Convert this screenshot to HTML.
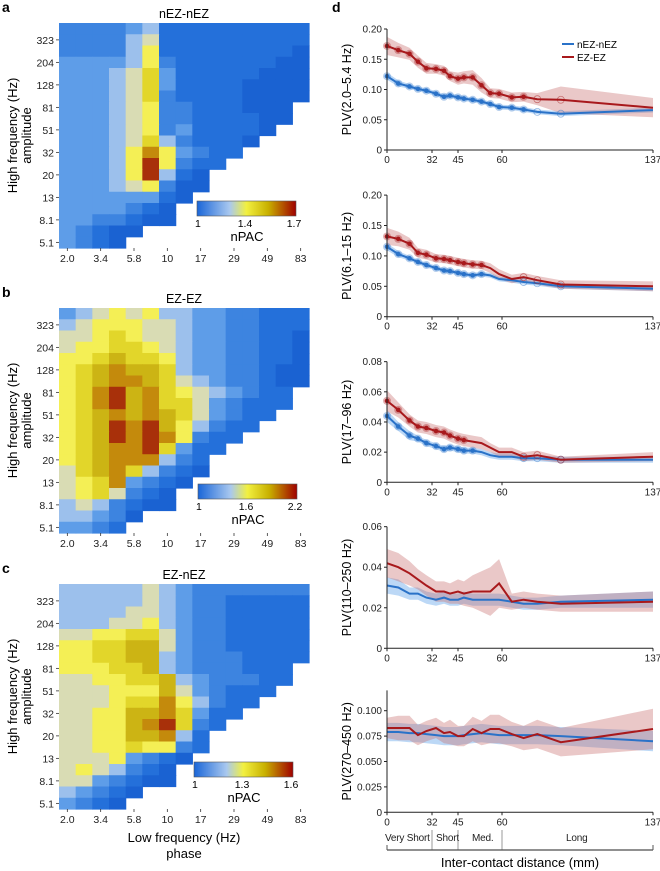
<!DOCTYPE html>
<html><head><meta charset="utf-8"><style>
html,body{margin:0;padding:0;background:#fff;}
svg{display:block;font-family:"Liberation Sans",sans-serif;}
</style></head><body>
<svg id="fig" width="660" height="871" viewBox="0 0 660 871"></svg>
<script>
// ---------- heatmap data (levels 0-9,A; '.' = empty) ----------
const hmXLabels = ["2.0","3.4","5.8","10","17","29","49","83"];
const hmYLabels = ["323","204","128","81","51","32","20","13","8.1","5.1"];
const hmA = [
"222234111111111","222245111111111","222246111111110","333346211111100","333457311111000",
"333457311110000","333457211110000","33345622111000.","33345622111100.","3334562311110..",
"333457421110...","33346963211....","33346A6211.....","33346A410......","333456200......",
"33333310.......","3333210........","3322100........","32100..........","3210..........."];
const hmB = [
"345656443322111","456665543322111","556765543322110","566776543322110","667877643322110",
"678988743322100","678998754322100","679A8976543211.","679A8977532111.","6789898753211..",
"678A9A864211...","678A9A96211....","67899A7311.....","678999421......","578974210......",
"56793210.......","5675210........","4542100........","44320..........","3321..........."];
const hmC = [
"444445432222222","444445432211111","444455432211111","444556432211111","556677532211111",
"667788532211111","667788432221111","66677843222111.","55667784322211.","5556668532111..",
"555677964211...","55668897311....","556689A721.....","556688941......","556676621......",
"55563210.......","5654210........","5532100........","43210..........","3210..........."];
const cbA = ["1","1.4","1.7"], cbB = ["1","1.6","2.2"], cbC = ["1","1.3","1.6"];

// ---------- line chart data ----------
const dist = [0,8,16,22,28,34,38,41,45,47,50,53,56,59,65,71,78,90,137];
const xTickVals = [0,32,45,60,137];
const red1 = [0.172,0.165,0.159,0.146,0.135,0.134,0.131,0.122,0.118,0.120,0.120,0.107,0.094,0.093,0.087,0.088,0.084,0.083,0.070];
const blue1 = [0.122,0.110,0.105,0.101,0.098,0.093,0.088,0.090,0.087,0.085,0.083,0.080,0.076,0.071,0.070,0.067,0.063,0.060,0.066];
const redErr1 = [0.015,0.012,0.010,0.010,0.009,0.008,0.008,0.008,0.010,0.010,0.012,0.012,0.008,0.008,0.008,0.008,0.010,0.022,0.016];
const blueErr1 = [0.006,0.005,0.004,0.004,0.004,0.004,0.004,0.004,0.004,0.004,0.004,0.004,0.004,0.004,0.004,0.004,0.004,0.004,0.004];
const red2 = [0.132,0.128,0.120,0.105,0.102,0.096,0.095,0.093,0.090,0.088,0.086,0.085,0.080,0.070,0.062,0.065,0.060,0.053,0.050];
const blue2 = [0.115,0.103,0.096,0.090,0.085,0.080,0.076,0.075,0.072,0.070,0.068,0.070,0.068,0.062,0.060,0.057,0.055,0.050,0.046];
const redErr2 = [0.014,0.012,0.010,0.008,0.008,0.007,0.007,0.007,0.007,0.007,0.007,0.007,0.008,0.008,0.007,0.007,0.007,0.007,0.008];
const blueErr2 = [0.006,0.005,0.004,0.004,0.004,0.004,0.004,0.004,0.004,0.004,0.004,0.004,0.004,0.004,0.004,0.004,0.004,0.004,0.004];
const red3 = [0.054,0.048,0.041,0.037,0.036,0.034,0.033,0.031,0.029,0.028,0.027,0.026,0.023,0.020,0.020,0.017,0.018,0.015,0.017];
const blue3 = [0.044,0.037,0.031,0.029,0.026,0.024,0.022,0.023,0.022,0.021,0.021,0.020,0.018,0.017,0.017,0.016,0.016,0.015,0.015];
const redErr3 = [0.007,0.005,0.004,0.004,0.004,0.004,0.004,0.004,0.004,0.004,0.004,0.004,0.003,0.003,0.003,0.003,0.003,0.002,0.003];
const blueErr3 = [0.004,0.003,0.003,0.002,0.002,0.002,0.002,0.002,0.002,0.002,0.002,0.002,0.002,0.002,0.002,0.002,0.002,0.002,0.002];
const red4 = [0.042,0.040,0.037,0.034,0.031,0.028,0.028,0.027,0.028,0.027,0.028,0.028,0.028,0.032,0.023,0.024,0.023,0.022,0.023];
const blue4 = [0.031,0.030,0.027,0.027,0.025,0.024,0.025,0.024,0.024,0.025,0.024,0.024,0.024,0.024,0.023,0.022,0.022,0.023,0.024];
const redErr4 = [0.007,0.007,0.006,0.005,0.005,0.005,0.005,0.005,0.006,0.006,0.008,0.010,0.012,0.012,0.004,0.004,0.004,0.004,0.005];
const blueErr4 = [0.004,0.004,0.003,0.003,0.003,0.003,0.003,0.003,0.003,0.003,0.003,0.003,0.003,0.003,0.003,0.003,0.003,0.003,0.004];
const red5 = [0.083,0.083,0.083,0.076,0.080,0.083,0.078,0.079,0.075,0.075,0.082,0.078,0.082,0.082,0.077,0.073,0.077,0.069,0.082];
const blue5 = [0.079,0.079,0.078,0.078,0.077,0.076,0.075,0.075,0.075,0.076,0.077,0.078,0.077,0.076,0.076,0.076,0.076,0.075,0.070];
const redErr5 = [0.010,0.012,0.012,0.010,0.010,0.010,0.010,0.012,0.010,0.010,0.012,0.012,0.014,0.014,0.012,0.012,0.014,0.014,0.020];
const blueErr5 = [0.009,0.009,0.009,0.009,0.009,0.009,0.009,0.009,0.009,0.009,0.009,0.009,0.009,0.009,0.009,0.009,0.009,0.009,0.010];

const NS = "http://www.w3.org/2000/svg";
const svg = document.getElementById('fig');
function el(tag, attrs, parent, text){
  const e = document.createElementNS(NS, tag);
  for (const k in attrs) e.setAttribute(k, attrs[k]);
  if (text !== undefined) e.textContent = text;
  (parent || svg).appendChild(e);
  return e;
}
const lvColors = {"0":"#1a62d2","1":"#2470da","2":"#3d84e0","3":"#5e9de8","4":"#9cc0ec","5":"#d9dcb4","6":"#f4ef55","7":"#e2d62a","8":"#ccb414","9":"#c48a0c","A":"#a8300a"};

// gradient defs
const defs = el('defs', {});
const lg = el('linearGradient', {id:'cmap', x1:'0', x2:'1', y1:'0', y2:'0'}, defs);
[["0","#1a66d8"],["0.33","#a9c8ef"],["0.5","#f2f040"],["0.72","#c8b000"],["1","#a00000"]].forEach(s=>el('stop',{offset:s[0],'stop-color':s[1]},lg));

function heatmap(id, letter, title, rows, py, cbLabels, cb){
  const g = el('g', {});
  
  
  const px = 59, W = 250, H = 225, cw = W/15, rh = H/20;
  const L = el('text', {x:2, y:py-11, 'font-size':14, 'font-weight':'bold'}, g, letter);
  
  
  const T = el('text', {x:px+W/2, y:py-5, 'font-size':12.5, 'text-anchor':'middle'}, g, title);
  
  
  rows.forEach((r, ri) => {
    for (let ci = 0; ci < r.length; ci++){
      const ch = r[ci];
      if (ch === '.') continue;
      const c = el('rect', {x:px+ci*cw, y:py+ri*rh, width:cw+0.6, height:rh+0.6, fill:lvColors[ch]}, g);
      
      
    }
  });
  hmYLabels.forEach((lab, i) => {
    const yy = py + (2*i+1.5)*rh;
    el('line', {x1:px-3, x2:px, y1:yy, y2:yy, stroke:'#333', 'stroke-width':0.8}, g);
    const t = el('text', {x:px-5, y:yy+4, 'font-size':10.5, 'text-anchor':'end', fill:'#222'}, g, lab);
    
    
  });
  hmXLabels.forEach((lab, i) => {
    const xx = px + (2*i+0.5)*cw;
    el('line', {x1:xx, x2:xx, y1:py+H, y2:py+H+3, stroke:'#333', 'stroke-width':0.8}, g);
    const t = el('text', {x:xx, y:py+H+14, 'font-size':10.5, 'text-anchor':'middle', fill:'#222'}, g, lab);
    
    
  });
  const yt = el('text', {transform:`translate(17,${py+H/2}) rotate(-90)`, 'font-size':13, 'text-anchor':'middle'}, g, 'High frequency (Hz)');
  
  
  const yt2 = el('text', {transform:`translate(31,${py+H/2}) rotate(-90)`, 'font-size':13, 'text-anchor':'middle'}, g, 'amplitude');
  
  
  const cbr = el('rect', {x:cb.x, y:cb.y, width:99, height:15, fill:'url(#cmap)', stroke:'#555', 'stroke-width':0.6}, g);
  
  
  [[cb.x, 'start'],[cb.x+48,'middle'],[cb.x+97,'middle']].forEach((p,i)=>{
    const t = el('text', {x:p[0]+(i==0?-2:0), y:cb.y+26, 'font-size':10.5, 'text-anchor':p[1]}, g, cbLabels[i]);
    
    
  });
  const n = el('text', {x:cb.x+50, y:cb.y+40, 'font-size':13, 'text-anchor':'middle'}, g, 'nPAC');
  
  
}
heatmap('a','a','nEZ-nEZ',hmA,23,cbA,{x:197,y:201});
heatmap('b','b','EZ-EZ',hmB,308,cbB,{x:198,y:484});
heatmap('c','c','EZ-nEZ',hmC,584,cbC,{x:194,y:762});
{
  const t1 = el('text', {x:184, y:842, 'font-size':13, 'text-anchor':'middle'}, svg, 'Low frequency (Hz)');
  
  
  const t2 = el('text', {x:184, y:858, 'font-size':13, 'text-anchor':'middle'}, svg, 'phase');
  
  
}

// ---------- line charts ----------
const xBreaks = [0,32,45,60,137], xPix = [387,432,458,502,653];
function xs(d){
  for (let i=1;i<xBreaks.length;i++){
    if (d <= xBreaks[i]) return xPix[i-1] + (d-xBreaks[i-1])/(xBreaks[i]-xBreaks[i-1])*(xPix[i]-xPix[i-1]);
  }
  return xPix[xPix.length-1];
}
const panels = [
  {id:1, y0:150, ppu:605, top:0.20, ticks:[0,0.05,0.10,0.15,0.20], tl:["0","0.05","0.10","0.15","0.20"], title:"PLV(2.0–5.4 Hz)", red:red1, blue:blue1, re:redErr1, be:blueErr1, rf:16, bf:16},
  {id:2, y0:316.7, ppu:608, top:0.20, ticks:[0,0.05,0.10,0.15,0.20], tl:["0","0.05","0.10","0.15","0.20"], title:"PLV(6.1–15 Hz)", red:red2, blue:blue2, re:redErr2, be:blueErr2, rf:12, bf:12},
  {id:3, y0:482.3, ppu:1508, top:0.08, ticks:[0,0.02,0.04,0.06,0.08], tl:["0","0.02","0.04","0.06","0.08"], title:"PLV(17–96 Hz)", red:red3, blue:blue3, re:redErr3, be:blueErr3, rf:10, bf:11},
  {id:4, y0:648.3, ppu:2027, top:0.06, ticks:[0,0.02,0.04,0.06], tl:["0","0.02","0.04","0.06"], title:"PLV(110–250 Hz)", red:red4, blue:blue4, re:redErr4, be:blueErr4, rf:0, bf:0},
  {id:5, y0:812.3, ppu:1016, top:0.12, ticks:[0,0.025,0.05,0.075,0.10], tl:["0","0.025","0.050","0.075","0.100"], title:"PLV(270–450 Hz)", red:red5, blue:blue5, re:redErr5, be:blueErr5, rf:0, bf:0}
];
const RED = '#a8191c', BLUE = '#2a72c8';
panels.forEach(p => {
  const g = el('g', {});
  
  
  const ys = v => p.y0 - v*p.ppu;
  function band(vals, errs, fill, op){
    let d = '';
    vals.forEach((v,i)=>{ d += (i?'L':'M') + xs(dist[i]).toFixed(1) + ',' + ys(v+errs[i]).toFixed(1); });
    for (let i=vals.length-1;i>=0;i--) d += 'L' + xs(dist[i]).toFixed(1) + ',' + ys(vals[i]-errs[i]).toFixed(1);
    const b = el('path', {d:d+'Z', fill:fill, 'fill-opacity':op}, g);
    
    
  }
  function line(vals, col, nFilled, name){
    const pts = vals.map((v,i)=> xs(dist[i]).toFixed(1)+','+ys(v).toFixed(1)).join(' ');
    const l = el('polyline', {points:pts, fill:'none', stroke:col, 'stroke-width':2}, g);
    
    
    vals.forEach((v,i)=>{
      if (i === vals.length-1) return;
      if (i < nFilled){
        const h = el('circle', {cx:xs(dist[i]), cy:ys(v), r:4, fill:col, 'fill-opacity':0.35}, g);
        
        
        const m = el('circle', {cx:xs(dist[i]), cy:ys(v), r:2.3, fill:col}, g);
        
        
      } else if (p.id <= 3 && i >= vals.length-4) {
        const m = el('circle', {cx:xs(dist[i]), cy:ys(v), r:3.5, fill:'none', stroke:col, 'stroke-opacity':0.5, 'stroke-width':0.8}, g);
        
        
      }
    });
  }
  band(p.blue, p.be, '#6aa8ea', 0.45);
  band(p.red, p.re, '#c96f6f', 0.38);
  line(p.blue, BLUE, p.bf, 'nez-nez');
  line(p.red, RED, p.rf, 'ez-ez');
  const yax = el('line', {x1:387, x2:387, y1:ys(p.top), y2:p.y0, stroke:'#222', 'stroke-width':1}, g);
  
  
  const xax = el('line', {x1:387, x2:653, y1:p.y0, y2:p.y0, stroke:'#222', 'stroke-width':1}, g);
  
  
  p.ticks.forEach((t,i)=>{
    el('line', {x1:384, x2:387, y1:ys(t), y2:ys(t), stroke:'#222', 'stroke-width':1}, g);
    const tt = el('text', {x:382, y:ys(t)+3.5, 'font-size':10, 'text-anchor':'end', fill:'#222'}, g, p.tl[i]);
    
    
  });
  xTickVals.forEach(t=>{
    el('line', {x1:xs(t), x2:xs(t), y1:p.y0, y2:p.y0+3, stroke:'#222', 'stroke-width':1}, g);
    const tt = el('text', {x:xs(t), y:p.y0+13, 'font-size':10, 'text-anchor':'middle', fill:'#222'}, g, String(t));
    
    
  });
  const mid = (ys(p.top)+p.y0)/2;
  const yt = el('text', {transform:`translate(351,${mid}) rotate(-90)`, 'font-size':12.5, 'text-anchor':'middle'}, g, p.title);
  
  
});
{
  const L = el('text', {x:332, y:12, 'font-size':14, 'font-weight':'bold'}, svg, 'd');
  
  
  const lg1 = el('line', {x1:562, x2:574, y1:44, y2:44, stroke:BLUE, 'stroke-width':2});
  
  
  const lt1 = el('text', {x:577, y:48, 'font-size':10}, svg, 'nEZ-nEZ');
  
  
  const lg2 = el('line', {x1:562, x2:574, y1:57, y2:57, stroke:RED, 'stroke-width':2});
  
  
  const lt2 = el('text', {x:577, y:61, 'font-size':10}, svg, 'EZ-EZ');
  
  
  const cats = [["Very Short",385,'start'],["Short",436,'start'],["Med.",472,'start'],["Long",566,'start']];
  cats.forEach(c=>{
    const t = el('text', {x:c[1], y:841, 'font-size':10, 'text-anchor':c[2], fill:'#222', 'letter-spacing':'-0.2'}, svg, c[0]);
    
    
  });
  const br = el('line', {x1:387, x2:653, y1:850, y2:850, stroke:'#222', 'stroke-width':1});
  
  
  xTickVals.forEach(t=>{
    const s = el('line', {x1:xs(t), x2:xs(t), y1:(t===0||t===137)?845:830, y2:850, stroke:'#555', 'stroke-width':(t===0||t===137)?1:0.6});
    
    
  });
  const xt = el('text', {x:520, y:867, 'font-size':13, 'text-anchor':'middle'}, svg, 'Inter-contact distance (mm)');
  
  
}
</script>
</body></html>
